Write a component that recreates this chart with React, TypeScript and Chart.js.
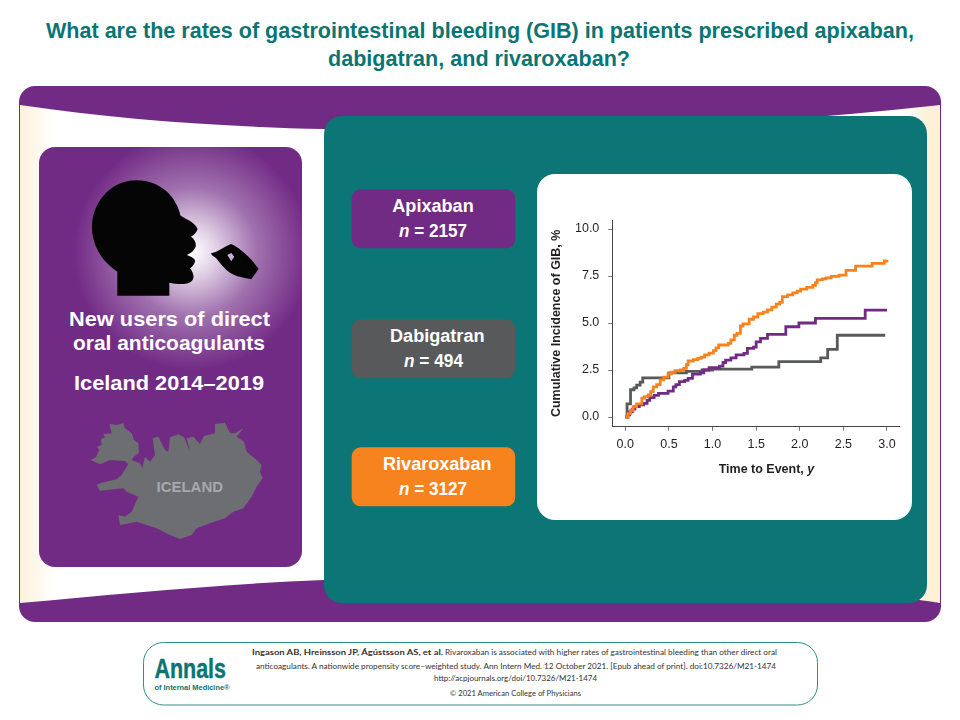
import React, { useEffect, useRef } from "react";
import { Chart, registerables } from "chart.js";

Chart.register(...registerables);

const xTicks = [0, 0.5, 1, 1.5, 2, 2.5, 3];
const yTicks = [0, 2.5, 5, 7.5, 10];

const rivaroxabanTime = [0, 0.03, 0.06, 0.09, 0.13, 0.19, 0.22, 0.26, 0.29, 0.32, 0.36, 0.4, 0.44, 0.49, 0.53, 0.57, 0.63, 0.67, 0.7, 0.72, 0.78, 0.83, 0.87, 0.91, 0.96, 1.01, 1.04, 1.07, 1.18, 1.21, 1.25, 1.28, 1.32, 1.35, 1.42, 1.47, 1.52, 1.58, 1.63, 1.68, 1.73, 1.77, 1.8, 1.86, 1.92, 1.97, 2.01, 2.08, 2.15, 2.18, 2.2, 2.26, 2.3, 2.36, 2.45, 2.53, 2.64, 2.83, 2.97, 3.0];
const rivaroxabanValue = [0, 0.18, 0.36, 0.55, 0.7, 1.0, 1.08, 1.17, 1.35, 1.6, 1.72, 1.97, 2.12, 2.3, 2.38, 2.46, 2.5, 2.59, 2.78, 2.98, 3.05, 3.12, 3.18, 3.3, 3.4, 3.53, 3.68, 3.83, 3.92, 4.1, 4.35, 4.45, 4.84, 4.95, 5.2, 5.32, 5.5, 5.58, 5.7, 5.85, 6.0, 6.1, 6.4, 6.5, 6.6, 6.7, 6.8, 6.9, 7.0, 7.15, 7.3, 7.35, 7.4, 7.48, 7.55, 7.8, 8.03, 8.17, 8.3, 8.35];

const apixabanTime = [0, 0.03, 0.05, 0.08, 0.11, 0.16, 0.21, 0.25, 0.28, 0.33, 0.38, 0.49, 0.55, 0.58, 0.62, 0.68, 0.72, 0.77, 0.86, 0.9, 0.96, 1.08, 1.12, 1.15, 1.21, 1.27, 1.36, 1.4, 1.47, 1.5, 1.55, 1.63, 1.84, 1.99, 2.18, 2.75, 3.0];
const apixabanValue = [0, 0.12, 0.28, 0.42, 0.55, 0.65, 0.73, 0.88, 1.03, 1.15, 1.26, 1.38, 1.6, 1.72, 1.88, 1.95, 2.05, 2.28, 2.35, 2.5, 2.62, 2.71, 2.9, 3.03, 3.15, 3.3, 3.39, 3.65, 3.72, 4.0, 4.18, 4.4, 4.8, 5.0, 5.25, 5.69, 5.69];

const dabigatranTime = [0, 0.02, 0.06, 0.1, 0.13, 0.17, 0.2, 0.5, 0.7, 0.88, 1.0, 1.45, 1.76, 2.24, 2.32, 2.43, 2.98];
const dabigatranValue = [0, 0.7, 1.45, 1.55, 1.7, 1.85, 2.08, 2.35, 2.43, 2.5, 2.55, 2.65, 2.95, 3.15, 3.6, 4.35, 4.35];

const toPoints = (t: number[], v: number[]) => t.map((x, i) => ({ x, y: v[i] }));

const purple = "#722b85";
const teal = "#0c7575";
const gray = "#58595b";
const orange = "#f7831f";
const sans = '"Liberation Sans", Arial, sans-serif';
const xTitle = "Time to Event, ";
const xTitleVar = "y";

function PlotCanvas() {
  const ref = useRef<HTMLCanvasElement | null>(null);
  useEffect(() => {
    const xAxisTitle = {
      id: "xAxisTitle",
      afterDraw(chart: any) {
        const { ctx } = chart;
        ctx.save();
        ctx.fillStyle = "#231f20";
        ctx.textBaseline = "middle";
        ctx.font = `bold 12.5px ${sans}`;
        const left = chart.scales.x.getPixelForValue(1.07);
        ctx.fillText(xTitle, left, 295.5);
        const w = ctx.measureText(xTitle).width;
        ctx.font = `italic bold 12.5px ${sans}`;
        ctx.fillText(xTitleVar, left + w, 295.5);
        ctx.restore();
      },
    };
    const chart = new Chart(ref.current as HTMLCanvasElement, {
      type: "line",
      data: {
        datasets: [
          { label: "Rivaroxaban", data: toPoints(rivaroxabanTime, rivaroxabanValue), borderColor: orange, borderWidth: 2.8, stepped: "before", pointRadius: 0 },
          { label: "Apixaban", data: toPoints(apixabanTime, apixabanValue), borderColor: purple, borderWidth: 2.8, stepped: "before", pointRadius: 0 },
          { label: "Dabigatran", data: toPoints(dabigatranTime, dabigatranValue), borderColor: gray, borderWidth: 2.8, stepped: "before", pointRadius: 0 },
        ],
      },
      plugins: [xAxisTitle],
      options: {
        responsive: false,
        animation: false,
        layout: { padding: { top: 46, right: 13, left: 0, bottom: 0 } },
        plugins: { legend: { display: false }, tooltip: { enabled: false } },
        scales: {
          x: {
            type: "linear",
            min: -0.149,
            max: 3.1376,
            afterBuildTicks: (s: any) => { s.ticks = xTicks.map((value) => ({ value })); },
            afterFit: (s: any) => { s.height = 93.3; },
            grid: { drawOnChartArea: false, tickLength: 4, tickColor: "#777" },
            border: { color: "#444", width: 1 },
            ticks: { maxRotation: 0, padding: 6, color: "#231f20", font: { family: sans, size: 12.5 }, callback: (v: any) => Number(v).toFixed(1) },
          },
          y: {
            type: "linear",
            min: -0.516,
            max: 10.48,
            afterBuildTicks: (s: any) => { s.ticks = yTicks.map((value) => ({ value })); },
            afterFit: (s: any) => { s.width = 75.3; },
            grid: { drawOnChartArea: false, tickLength: 4, tickColor: "#777" },
            border: { color: "#444", width: 1 },
            ticks: { padding: 9, color: "#231f20", font: { family: sans, size: 12.5 }, callback: (v: any) => Number(v).toFixed(1) },
            title: { display: true, text: "Cumulative Incidence of GIB, %", color: "#231f20", font: { family: sans, size: 12.5, weight: "bold" }, padding: { top: 12, bottom: 0 } },
          },
        },
      },
    } as any);
    return () => chart.destroy();
  }, []);
  return <canvas ref={ref} width={375} height={346} style={{ position: "absolute", left: 537, top: 174, width: 375, height: 346 }} />;
}

function T(p: { x: number; w: number; y: number; size: number; fill: string; bold?: boolean; family?: string; children: any }) {
  return (
    <text x={p.x} y={p.y} textLength={p.w} lengthAdjust="spacingAndGlyphs" fontSize={p.size} fill={p.fill} fontWeight={p.bold ? "bold" : "normal"} fontFamily={p.family || sans}>
      {p.children}
    </text>
  );
}

function Drug(p: { name: string; count: string; y: number; fill: string; nx: number; nw: number; tx: number; tw: number }) {
  return (
    <g>
      <rect x={351.7} y={p.y} width={163.5} height={59} rx={9} fill={p.fill} />
      <T x={p.tx} w={p.tw} y={p.y + 22.5} size={17.5} fill="#fff" bold>{p.name}</T>
      <text x={p.nx} y={p.y + 48} textLength={p.nw} lengthAdjust="spacingAndGlyphs" fontSize={18} fill="#fff" fontWeight="bold" fontFamily={sans}>
        <tspan fontStyle="italic">n</tspan> = {p.count}
      </text>
    </g>
  );
}

const citeFont = 'Lato, "Open Sans", sans-serif';

export default function App() {
  return (
    <div style={{ position: "absolute", left: 0, top: 0, width: 960, height: 720, background: "#fff", overflow: "hidden" }}>
      <svg width={960} height={720} style={{ position: "absolute", left: 0, top: 0 }}>
        <defs>
          <linearGradient id="cream" gradientUnits="userSpaceOnUse" x1={20} x2={940} y1={0} y2={0}>
            <stop offset="0" stopColor="#fdf1d8" />
            <stop offset="0.036" stopColor="#ffffff" />
            <stop offset="0.961" stopColor="#ffffff" />
            <stop offset="0.985" stopColor="#fdf1d8" />
            <stop offset="1" stopColor="#fdf1d8" />
          </linearGradient>
          <radialGradient id="glow" gradientUnits="userSpaceOnUse" cx={192} cy={252} r={118}>
            <stop offset="0" stopColor="#ffffff" />
            <stop offset="0.2" stopColor="#e2d2e7" />
            <stop offset="0.55" stopColor="#a071ae" />
            <stop offset="1" stopColor={purple} />
          </radialGradient>
        </defs>

        <T x={46} w={868} y={38} size={22} fill="#0a7573" bold>What are the rates of gastrointestinal bleeding (GIB) in patients prescribed apixaban,</T>
        <T x={328} w={302} y={66} size={22} fill="#0a7573" bold>dabigatran, and rivaroxaban?</T>

        <rect x={19} y={86} width={922} height={536} rx={16} fill={purple} />
        <path d="M20 105 C 120 120, 230 127, 324 129 C 560 135, 740 127, 940 105 L 940 603 C 800 580, 560 574, 324 580 C 220 584, 120 594, 20 603 Z" fill="url(#cream)" />
        <rect x={324} y={116} width={603} height={487} rx={18} fill={teal} />
        <rect x={537} y={174} width={375} height={346} rx={18} fill="#fff" />

        <rect x={39} y={147} width={263} height={420} rx={16} fill="url(#glow)" />
        <g transform="translate(30,140) scale(0.3333)">
          <path fill="#050505" d="M262 467 L262 395 C225 370 195 335 187 280 C180 225 205 165 260 135 C310 108 385 118 425 170 C440 190 448 210 451 226 C465 238 495 245 503 268 C498 280 490 286 483 290 C495 298 499 310 497 320 C490 335 480 340 470 345 C482 350 497 355 495 365 C490 378 484 382 480 385 C488 395 492 405 490 415 C485 430 470 432 455 432 C440 432 428 430 418 428 L418 467 Z" />
          <path fill="#050505" fillRule="evenodd" d="M543 340 L557 336 C570 330 585 320 603 312 C620 318 640 335 665 360 L686 386 L664 418 C645 412 622 412 600 398 C585 388 570 370 558 354 L546 346 Z M592 345 L604 339 L613 350 L604 364 Z" />
        </g>

        <T x={69} w={201} y={326} size={21} fill="#fff" bold>New users of direct</T>
        <T x={73} w={192} y={350} size={21} fill="#fff" bold>oral anticoagulants</T>
        <T x={74} w={190} y={390} size={21} fill="#fff" bold>Iceland 2014–2019</T>

        <g transform="translate(60,400) scale(0.3333)">
          <path fill="#6d6e71" d="M110 255 L125 248 L170 238 L185 225 L205 192 L195 183 L150 180 L120 193 L92 180 L108 172 L118 150 L110 140 L125 135 L122 118 L135 112 L130 102 L155 100 L148 72 L170 75 L190 70 L195 85 L215 100 L222 120 L235 130 L237 158 L222 170 L215 180 L240 190 L247 205 L255 170 L270 185 L285 165 L278 115 L295 110 L315 150 L325 155 L330 112 L355 103 L372 112 L390 155 L380 115 L400 110 L420 132 L432 108 L465 100 L465 72 L495 68 L510 100 L525 100 L550 85 L530 110 L552 125 L560 155 L590 180 L605 195 L600 215 L608 235 L590 260 L575 290 L550 325 L520 335 L495 355 L450 370 L410 385 L395 405 L360 417 L330 405 L290 385 L230 365 L180 375 L175 345 L195 350 L215 335 L235 290 L200 275 L190 265 L120 272 Z" />
        </g>
        <T x={156.5} w={66.5} y={491.5} size={14.5} fill="#a7a9ac" bold>ICELAND</T>

        <Drug name="Apixaban" count="2157" y={189.3} fill={purple} tx={392.3} tw={81.4} nx={399} nw={68} />
        <Drug name="Dabigatran" count="494" y={319.3} fill={gray} tx={390} tw={94.5} nx={404} nw={59} />
        <Drug name="Rivaroxaban" count="3127" y={447.3} fill={orange} tx={383} tw={108.5} nx={399} nw={68} />

        <rect x={143.5} y={642.5} width={674} height={62.5} rx={20} fill="#fff" stroke="#2f8f8b" strokeWidth={1} />
        <text x={154.5} y={677.5} textLength={71.5} lengthAdjust="spacingAndGlyphs" fontSize={27} fill="#0a7573" stroke="#0a7573" strokeWidth={0.4} fontWeight="bold" fontFamily={sans}>Annals</text>
        <T x={154.5} w={75} y={689.5} size={7.8} fill="#0a7573" bold>of Internal Medicine®</T>
        <T x={252} w={191} y={655} size={8.4} fill="#333" bold family={citeFont}>Ingason AB, Hreinsson JP, Ágústsson AS, et al.</T>
        <T x={445} w={332} y={655} size={8.4} fill="#333" family={citeFont}>Rivaroxaban is associated with higher rates of gastrointestinal bleeding than other direct oral</T>
        <T x={256} w={520} y={668.5} size={8.4} fill="#333" family={citeFont}>anticoagulants. A nationwide propensity score–weighted study. Ann Intern Med. 12 October 2021. [Epub ahead of print]. doi:10.7326/M21-1474</T>
        <T x={434} w={163} y={680.5} size={8.4} fill="#333" family={citeFont}>http://acpjournals.org/doi/10.7326/M21-1474</T>
        <T x={450} w={131} y={696} size={8.4} fill="#333" family={citeFont}>© 2021 American College of Physicians</T>
      </svg>
      <PlotCanvas />
    </div>
  );
}
